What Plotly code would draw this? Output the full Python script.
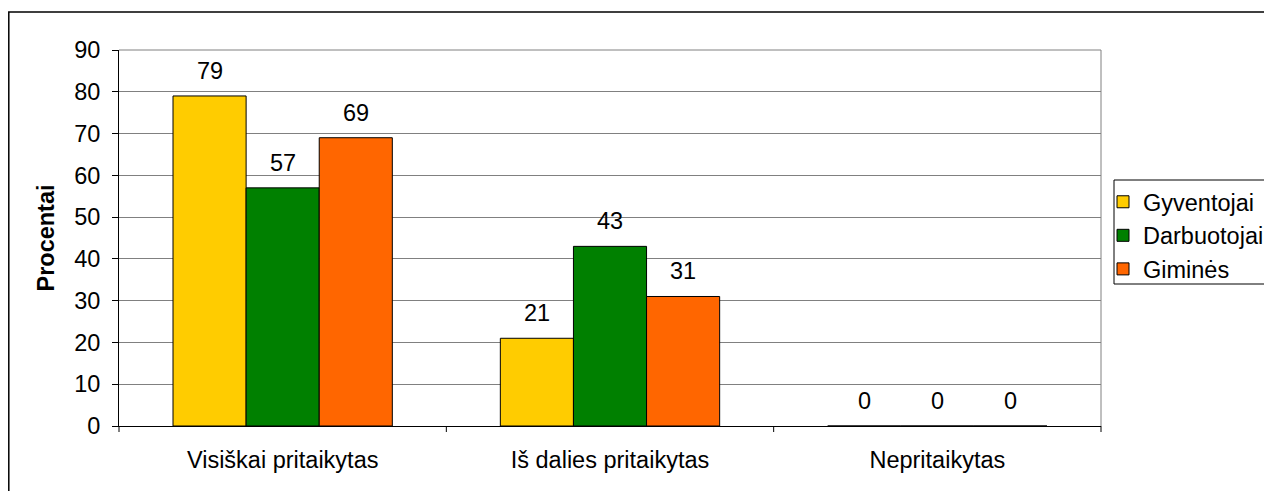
import plotly.graph_objects as go

categories = ["Visiškai pritaikytas", "Iš dalies pritaikytas", "Nepritaikytas"]
series_names = ["Gyventojai", "Darbuotojai", "Giminės"]
gyventojai = [79, 21, 0]
darbuotojai = [57, 43, 0]
gimines = [69, 31, 0]
colors = ["#FFCC00", "#008000", "#FF6600"]
y_ticks = [0, 10, 20, 30, 40, 50, 60, 70, 80, 90]

# figure is placed by the page with an 8px body margin
W, H = 1264, 483
L, R, T, B = 111, 1093, 42, 418
pw, ph = R - L, B - T
FS = 23.5
FONT = "Arial, Liberation Sans"
BARGAP = 0.33

all_series = [gyventojai, darbuotojai, gimines]

fig = go.Figure()
for name, vals, col in zip(series_names, all_series, colors):
    fig.add_trace(go.Bar(
        name=name, x=categories, y=vals,
        marker=dict(color=col, line=dict(color="black", width=1)),
        cliponaxis=False,
    ))

# data labels above bars
bar_px = (pw / len(categories)) * (1 - BARGAP) / len(series_names)
annotations = []
for k, vals in enumerate(all_series):
    off = (k - (len(series_names) - 1) / 2) * bar_px
    for cat, v in zip(categories, vals):
        annotations.append(dict(
            x=cat, y=v, xref="x", yref="y", text=str(v), showarrow=False,
            xanchor="center", yanchor="bottom", xshift=off, yshift=10,
            font=dict(family=FONT, size=FS, color="black"),
        ))

fig.update_layout(
    width=W, height=H,
    margin=dict(l=L, r=W - R, t=T, b=H - B, autoexpand=False),
    paper_bgcolor="white", plot_bgcolor="white",
    barmode="group", bargap=BARGAP, bargroupgap=0,
    font=dict(family=FONT, size=FS, color="black"),
    showlegend=True,
    legend=dict(
        xref="container", yref="container",
        x=1095 / W, y=1 - 172 / H, xanchor="left", yanchor="top",
        borderwidth=0, bgcolor="rgba(0,0,0,0)",
        font=dict(size=FS), itemwidth=30, tracegroupgap=0,
    ),
    xaxis=dict(
        showline=True, linecolor="black", linewidth=1, mirror=False,
        ticks="", showgrid=False, tickfont=dict(size=FS), ticklabelstandoff=13,
    ),
    yaxis=dict(
        range=[0, 90], tickvals=y_ticks, showline=True, linecolor="black", linewidth=1,
        ticks="outside", ticklen=6, tickcolor="black",
        showgrid=True, gridcolor="#808080", gridwidth=1,
        zeroline=False, tickfont=dict(size=FS), ticklabelstandoff=7,
        title=dict(text="<b>Procentai</b>", font=dict(size=FS), standoff=12),
    ),
    annotations=annotations,
)

shapes = []
for i in range(4):
    xp = i / 3
    shapes.append(dict(type="line", xref="paper", yref="paper",
                       x0=xp, x1=xp, y0=0, y1=-6 / ph,
                       line=dict(color="black", width=1)))
shapes.append(dict(type="line", xref="paper", yref="paper", x0=0, x1=1, y0=1, y1=1,
                   line=dict(color="#808080", width=1)))
shapes.append(dict(type="line", xref="paper", yref="paper", x0=1, x1=1, y0=0, y1=1,
                   line=dict(color="#808080", width=1)))
# outer chart border
shapes.append(dict(type="rect", xref="paper", yref="paper",
                   x0=(0.8 - L) / pw, x1=(1280 - L) / pw,
                   y0=(B - 500) / ph, y1=(B - 4) / ph,
                   line=dict(color="black", width=1.5), fillcolor="rgba(0,0,0,0)",
                   layer="below"))
# legend frame
shapes.append(dict(type="rect", xref="paper", yref="paper",
                   x0=(1106 - L) / pw, x1=(1290 - L) / pw,
                   y0=(B - 276) / ph, y1=(B - 172) / ph,
                   line=dict(color="black", width=1), fillcolor="white",
                   layer="below"))
fig.update_layout(shapes=shapes)

fig.write_html("out.html")
